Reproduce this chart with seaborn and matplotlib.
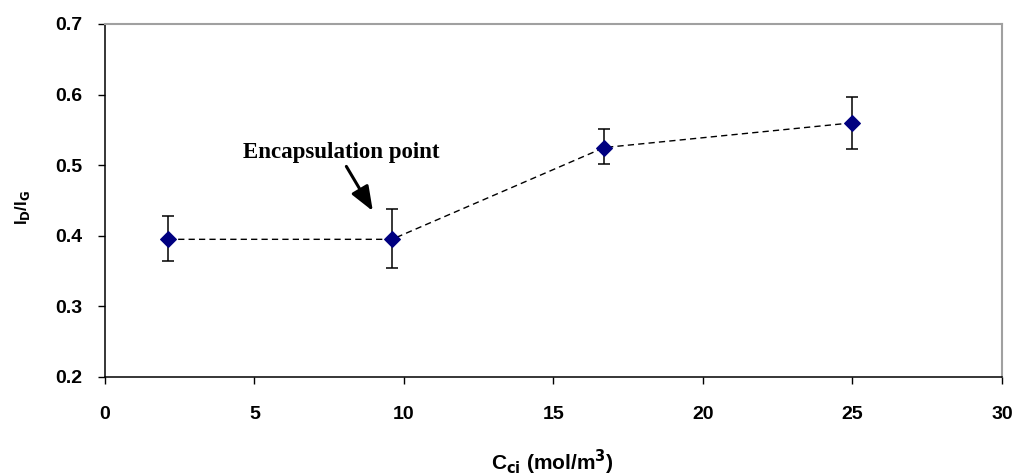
import matplotlib
matplotlib.use("Agg")
import matplotlib.pyplot as plt
import seaborn as sns
import pandas as pd

# Raman intensity ratio vs. inlet concentration
conc = [2.1, 9.6, 16.7, 25.0]
ratio = [0.395, 0.395, 0.525, 0.560]
err_low = [0.030, 0.041, 0.024, 0.037]
err_high = [0.033, 0.043, 0.026, 0.036]

x_ticks = [0, 5, 10, 15, 20, 25, 30]
y_ticks = [0.2, 0.3, 0.4, 0.5, 0.6, 0.7]

df = pd.DataFrame({"conc": conc, "ratio": ratio})

sns.set_style("white")
plt.rcParams["font.family"] = ["Liberation Sans", "DejaVu Sans"]
plt.rcParams["text.color"] = "black"
plt.rcParams["axes.labelcolor"] = "black"
plt.rcParams["xtick.color"] = "black"
plt.rcParams["ytick.color"] = "black"

fig = plt.figure(figsize=(10.15, 4.76), dpi=100)
ax = fig.add_axes([0.1034, 0.208, 0.8837, 0.7416])

ax.errorbar(conc, ratio, yerr=[err_low, err_high], fmt="none",
            ecolor="black", elinewidth=1.1, capsize=4, capthick=1.1, zorder=2)
sns.lineplot(data=df, x="conc", y="ratio", ax=ax, color="black",
             linestyle=(0, (4.5, 3)), linewidth=1.0, marker="D",
             markersize=8.5, markerfacecolor="#000080", markeredgecolor="#000080",
             zorder=3)

ax.set_xlim(0, 30)
ax.set_ylim(0.2, 0.7)
ax.set_xticks(x_ticks)
ax.set_yticks(y_ticks)
ax.set_xticklabels([str(t) for t in x_ticks], fontsize=14, fontweight="bold")
ax.set_yticklabels([f"{t:.1f}" for t in y_ticks], fontsize=14, fontweight="bold")
ax.tick_params(axis="both", direction="out", length=5, width=1,
               bottom=True, left=True)
ax.tick_params(axis="x", pad=16)
ax.tick_params(axis="y", pad=11)

for side in ("left", "bottom"):
    ax.spines[side].set_color("black")
    ax.spines[side].set_linewidth(1.1)
for side in ("top", "right"):
    ax.spines[side].set_color("#a0a0a0")
    ax.spines[side].set_linewidth(1.5)

ax.set_xlabel(r"C$_{\mathbf{ci}}$ (mol/m$^{\mathbf{3}}$)", fontsize=15,
              fontweight="bold")
ax.xaxis.set_label_coords(0.499, -0.20)
ax.set_ylabel(r"I$_{\mathbf{D}}$/I$_{\mathbf{G}}$", fontsize=12,
              fontweight="bold")
ax.yaxis.set_label_coords(-0.081, 0.48)

ax.annotate("Encapsulation point", xy=(8.96, 0.435), xytext=(7.89, 0.510),
            fontsize=16.5, fontweight="bold", family="Liberation Serif",
            ha="center", va="baseline",
            arrowprops=dict(arrowstyle="-|>,head_width=0.35,head_length=0.9",
                            color="black", lw=2.2, shrinkA=0, shrinkB=0,
                            relpos=(0.52, -0.03)))

fig.savefig("out.png", dpi=100)
